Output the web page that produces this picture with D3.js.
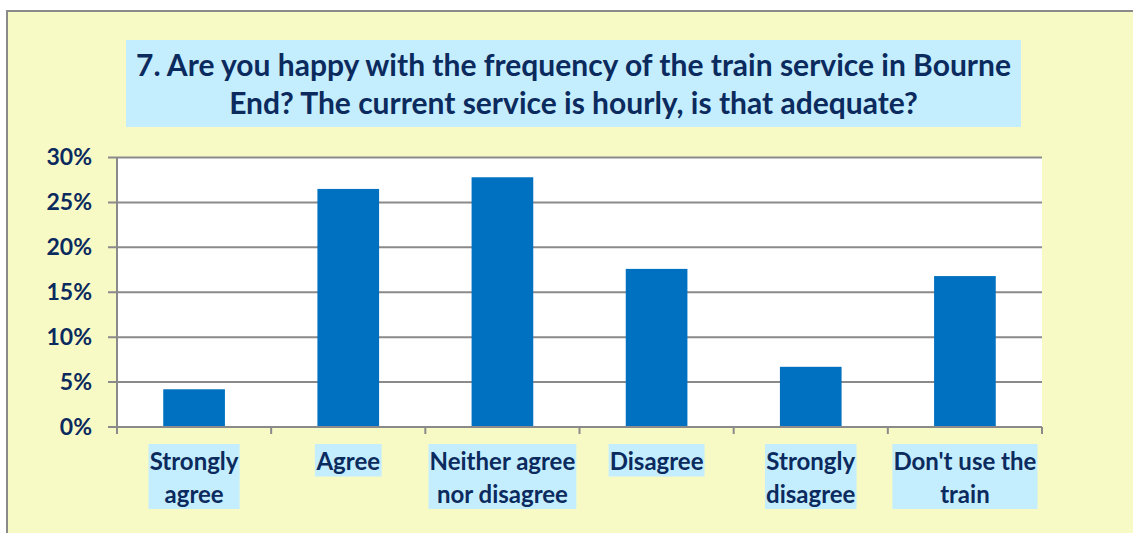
<!DOCTYPE html>
<html>
<head>
<meta charset="utf-8">
<script src="https://cdn.jsdelivr.net/npm/d3@7"></script>
<style>
  body { margin: 0; background: #fff; }
  svg { display: block; }
</style>
</head>
<body>
<script>
// survey answers
var categories = ['Strongly agree', 'Agree', 'Neither agree nor disagree', 'Disagree', 'Strongly disagree', "Don't use the train"];
var categoryLines = [['Strongly', 'agree'], ['Agree'], ['Neither agree', 'nor disagree'], ['Disagree'], ['Strongly', 'disagree'], ["Don't use the", 'train']];
var values = [0.042, 0.265, 0.278, 0.176, 0.067, 0.168];
var yTicks = [0, 0.05, 0.10, 0.15, 0.20, 0.25, 0.30];
var titleLines = ['7. Are you happy with the frequency of the train service in Bourne', 'End? The current service is hourly, is that adequate?'];

var width = 1133, height = 533;
var navy = '#0b2a5e';
var paleBlue = '#c4eefd';
var grey = '#8a8a8a';
var font = 'Lato, "Open Sans", sans-serif';

var svg = d3.select('body').append('svg')
    .attr('width', width)
    .attr('height', height);

// chart background + border
svg.append('rect')
    .attr('x', 7).attr('y', 11)
    .attr('width', width + 20).attr('height', height + 20)
    .attr('fill', '#f8fac6')
    .attr('stroke', grey)
    .attr('stroke-width', 2);

// title
svg.append('rect')
    .attr('x', 126).attr('y', 40)
    .attr('width', 895).attr('height', 87)
    .attr('fill', paleBlue);

svg.append('text')
    .attr('text-anchor', 'middle')
    .attr('font-family', font)
    .attr('font-weight', 'bold')
    .attr('font-size', 30)
    .attr('fill', navy)
  .selectAll('tspan')
  .data(titleLines)
  .enter().append('tspan')
    .attr('x', 573.5)
    .attr('y', function(d, i) { return 76 + i * 38; })
    .text(function(d) { return d; });

var plot = { left: 117, right: 1042, top: 157.5, bottom: 427 };

var x = d3.scaleBand()
    .domain(categories)
    .range([plot.left, plot.right])
    .paddingInner(0.6)
    .paddingOuter(0.3);

var y = d3.scaleLinear()
    .domain([0, 0.3])
    .range([plot.bottom, plot.top]);

svg.append('rect')
    .attr('x', plot.left).attr('y', plot.top)
    .attr('width', plot.right - plot.left).attr('height', plot.bottom - plot.top)
    .attr('fill', '#fff');

// gridlines
svg.append('g')
  .selectAll('line')
  .data(yTicks)
  .enter().append('line')
    .attr('x1', plot.left - 9)
    .attr('x2', plot.right)
    .attr('y1', function(d) { return y(d); })
    .attr('y2', function(d) { return y(d); })
    .attr('stroke', grey)
    .attr('stroke-width', 2);

// y axis
var yAxis = svg.append('g')
    .attr('transform', 'translate(' + plot.left + ',0)')
    .call(d3.axisLeft(y).tickValues(yTicks).tickFormat(d3.format('.0%')).tickSize(0).tickPadding(25));
yAxis.select('.domain').attr('stroke', grey).attr('stroke-width', 2)
    .attr('d', 'M0,' + plot.top + 'V' + (plot.bottom + 7));
yAxis.selectAll('text')
    .attr('font-family', font)
    .attr('font-weight', 'bold')
    .attr('font-size', 23)
    .attr('fill', navy);

// bars
svg.append('g')
  .selectAll('rect')
  .data(values)
  .enter().append('rect')
    .attr('x', function(d, i) { return x(categories[i]); })
    .attr('y', function(d) { return y(d); })
    .attr('width', x.bandwidth())
    .attr('height', function(d) { return plot.bottom - y(d); })
    .attr('fill', '#0070c0');

// x axis line and ticks at category boundaries
var step = x.step();
var bounds = d3.range(categories.length + 1).map(function(i) { return plot.left + i * step; });
svg.append('line')
    .attr('x1', plot.left).attr('x2', plot.right)
    .attr('y1', plot.bottom).attr('y2', plot.bottom)
    .attr('stroke', grey).attr('stroke-width', 2);
svg.append('g')
  .selectAll('line')
  .data(bounds)
  .enter().append('line')
    .attr('x1', function(d) { return d; })
    .attr('x2', function(d) { return d; })
    .attr('y1', plot.bottom)
    .attr('y2', plot.bottom + 7)
    .attr('stroke', grey)
    .attr('stroke-width', 2);

// category labels with pale blue boxes
var lineH = 32.5;
var labels = svg.append('g')
  .selectAll('g')
  .data(categories)
  .enter().append('g');

labels.each(function(c, i) {
    var g = d3.select(this);
    var cx = x(c) + x.bandwidth() / 2;
    var bg = g.append('rect').attr('fill', paleBlue);
    var t = g.append('text')
        .attr('text-anchor', 'middle')
        .attr('font-family', font)
        .attr('font-weight', 'bold')
        .attr('font-size', 24)
        .attr('fill', navy);
    t.selectAll('tspan')
      .data(categoryLines[i])
      .enter().append('tspan')
        .attr('x', cx)
        .attr('y', function(d, j) { return 470 + j * lineH; })
        .text(function(d) { return d; });
    var w = t.node().getBBox().width;
    bg.attr('x', cx - w / 2 - 1)
      .attr('y', 444)
      .attr('width', w + 2)
      .attr('height', categoryLines[i].length * lineH);
});
</script>
</body>
</html>
